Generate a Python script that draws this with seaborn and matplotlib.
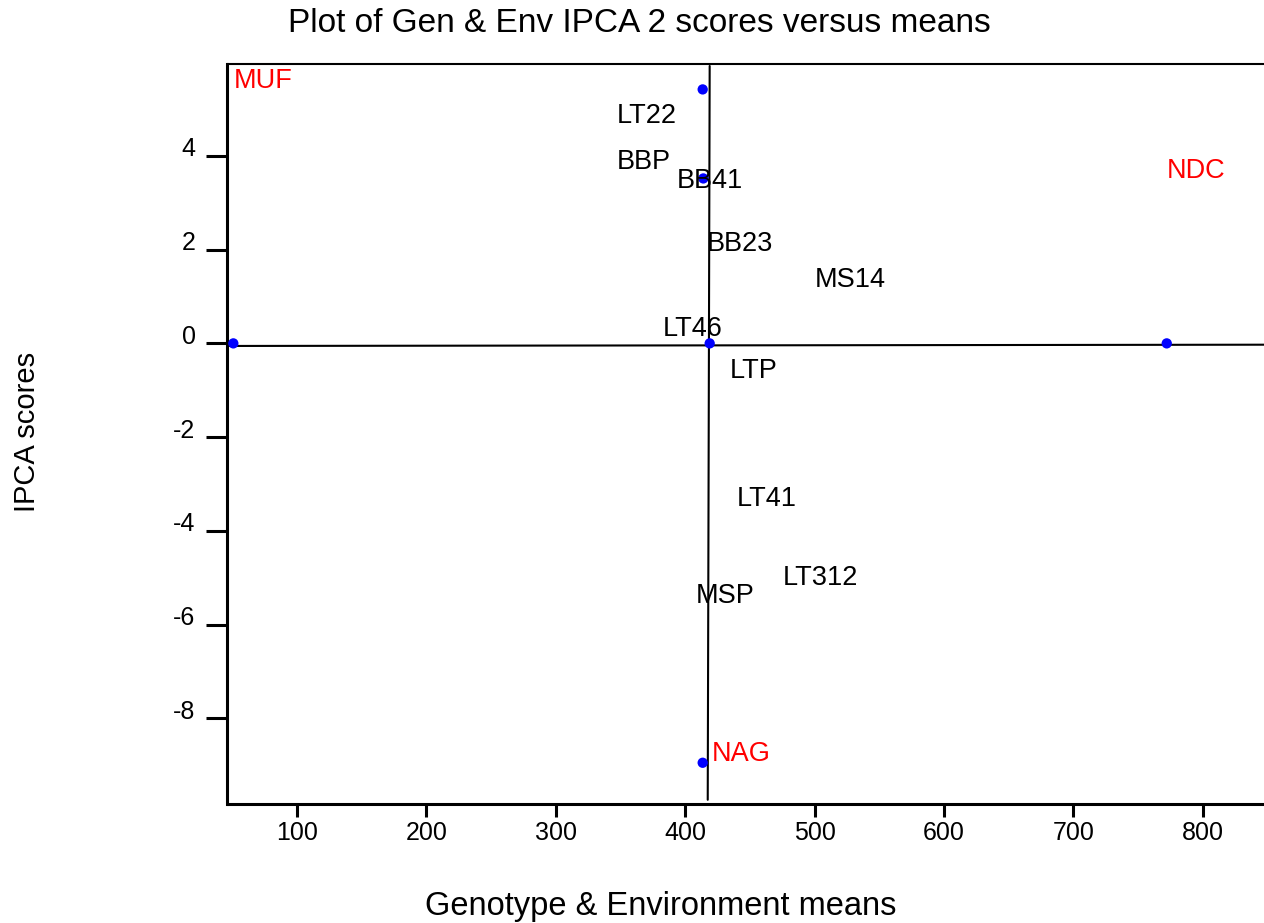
import matplotlib
matplotlib.use("Agg")
from matplotlib import pyplot as plt
import matplotlib.transforms as mtransforms
import seaborn as sns
import pandas as pd

# IPCA 2 scores versus means (genotypes black, environments red)
gen_names = ["LT22", "BBP", "BB41", "BB23", "MS14", "LT46", "LTP", "LT41", "LT312", "MSP"]
gen_x = [347.1, 347.1, 393.4, 416.8, 500.3, 382.6, 434.6, 440.0, 475.6, 408.3]
gen_y = [4.70, 3.73, 3.31, 1.97, 1.21, 0.16, -0.74, -3.47, -5.15, -5.54]

env_names = ["MUF", "NDC", "NAG"]
env_x = [51.3, 772.3, 420.5]
env_y = [5.45, 3.53, -8.92]

# blue points
dot_x = [413.5, 414.0, 50.8, 418.9, 772.1, 413.5]
dot_y = [5.42, 3.52, 0.0, 0.0, 0.0, -8.95]

# mean lines
vline_x = [418.9, 417.4]
vline_y = [5.92, -9.74]
hline_x = [46.3, 848.8]
hline_y = [-0.055, -0.028]

x_ticks = [100, 200, 300, 400, 500, 600, 700, 800]
y_ticks = [4, 2, 0, -2, -4, -6, -8]

sns.set_style("white")
plt.rcParams["font.family"] = ["Liberation Sans", "DejaVu Sans"]
plt.rcParams["text.color"] = "black"

W, H = 1264, 923
fig = plt.figure(figsize=(W / 100, H / 100), dpi=100)
left, right, top, bottom = 227.5, 1266, 63.5, 804
ax = fig.add_axes([left / W, 1 - bottom / H, (right - left) / W, (bottom - top) / H])

ax.plot(vline_x, vline_y, color="black", lw=1.5, zorder=2)
ax.plot(hline_x, hline_y, color="black", lw=1.5, zorder=2)

dots = pd.DataFrame({"x": dot_x, "y": dot_y})
sns.scatterplot(data=dots, x="x", y="y", color="#0000ff", s=55, edgecolor="none",
                ax=ax, zorder=3)

for name, x, y in zip(gen_names, gen_x, gen_y):
    ax.text(x, y, name, fontsize=19.5, color="black", ha="left", va="baseline", zorder=4)
for name, x, y in zip(env_names, env_x, env_y):
    ax.text(x, y, name, fontsize=19.5, color="#ff0000", ha="left", va="baseline", zorder=4)

ax.set_xlim(46.3, 848.8)
ax.set_ylim(-9.83, 5.973)
ax.set_xticks(x_ticks)
ax.set_yticks(y_ticks)
ax.set_xticklabels([str(v) for v in x_ticks])
ax.set_yticklabels([str(v) for v in y_ticks])
ax.set_xlabel("")
ax.set_ylabel("")

ax.tick_params(axis="x", direction="out", length=9, width=2.2, pad=3, labelsize=18,
               bottom=True, colors="black")
ax.tick_params(axis="y", direction="out", length=15, width=2.2, pad=8, labelsize=18,
               left=True, colors="black")
offset = mtransforms.ScaledTranslation(0, 0.09, fig.dpi_scale_trans)
for lab in ax.get_yticklabels():
    lab.set_transform(lab.get_transform() + offset)

for side in ["left", "bottom"]:
    ax.spines[side].set_linewidth(2.2)
    ax.spines[side].set_color("black")
ax.spines["top"].set_linewidth(1.5)
ax.spines["top"].set_color("black")
ax.spines["right"].set_visible(False)

fig.text(639 / W, 1 - 23 / H, "Plot of Gen & Env IPCA 2 scores versus means",
         fontsize=24, color="black", ha="center", va="center")
fig.text(661 / W, 1 - 906 / H, "Genotype & Environment means",
         fontsize=23.5, color="black", ha="center", va="center")
fig.text(27 / W, 1 - 432 / H, "IPCA scores", fontsize=21, rotation=90,
         color="black", ha="center", va="center")

fig.savefig("out.png", dpi=100)
